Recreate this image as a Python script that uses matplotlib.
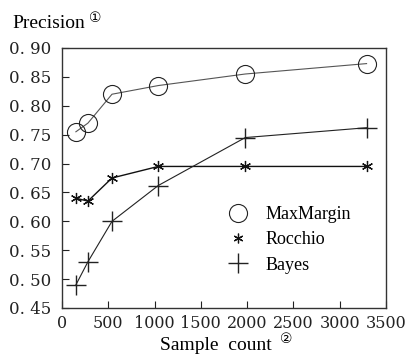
import matplotlib.pyplot as plt
from matplotlib.lines import Line2D
from matplotlib.ticker import FuncFormatter

samples = [150, 280, 540, 1040, 1980, 3290]
maxmargin = [0.755, 0.770, 0.820, 0.835, 0.855, 0.873]
rocchio = [0.640, 0.635, 0.675, 0.695, 0.695, 0.695]
bayes = [0.490, 0.530, 0.600, 0.662, 0.745, 0.762]

plt.rcParams['font.family'] = ['DejaVu Serif', 'DejaVu Sans']

fig = plt.figure(figsize=(4.09, 3.56), dpi=100)
ax = fig.add_axes([62 / 409, 1 - 308 / 356, (386 - 62) / 409, (308 - 48) / 356])

asterisk = (6, 2, 0)
ax.plot(samples, maxmargin, color='#555555', lw=0.8, marker='o', ms=13,
        mfc='none', mec='#222222', mew=0.8)
ax.plot(samples, rocchio, color='#111111', lw=1.0, marker=asterisk, ms=8,
        mec='#111111', mew=0.9)
ax.plot(samples, bayes, color='#222222', lw=0.8, marker='+', ms=14, mew=1.0)

ax.set_xlim(0, 3500)
ax.set_ylim(0.45, 0.90)
ax.set_xticks(range(0, 3501, 500))
ax.set_yticks([0.45, 0.50, 0.55, 0.60, 0.65, 0.70, 0.75, 0.80, 0.85, 0.90])
ax.yaxis.set_major_formatter(FuncFormatter(lambda v, p: f'{v:.2f}'.replace('.', '. ')))
ax.tick_params(direction='in', length=5, labelsize=12, colors='#222222', pad=8)
ax.tick_params(axis='x', pad=5, labelsize=11.5)
for s in ax.spines.values():
    s.set_color('#333333')
    s.set_linewidth(1.0)

# axis titles with small raised circled footnote marks
fig.text(12 / 409, 1 - 24 / 356, 'Precision', fontsize=14, va='center', ha='left',
         family=['Liberation Serif'])
fig.text(89 / 409, 1 - 18 / 356, '\u2460', fontsize=10, va='center', ha='left',
         family=['DejaVu Sans'])
fig.text(160 / 409, 1 - 346 / 356, 'Sample  count', fontsize=14, va='center', ha='left',
         family=['Liberation Serif'])
fig.text(280 / 409, 1 - 339 / 356, '\u2461', fontsize=10, va='center', ha='left',
         family=['DejaVu Sans'])

handles = [
    Line2D([], [], ls='none', marker='o', ms=13, mfc='none', mec='#222222', mew=0.8),
    Line2D([], [], ls='none', marker=asterisk, ms=7, mec='#111111', mew=0.9),
    Line2D([], [], ls='none', marker='+', ms=14, mec='#222222', mew=1.0),
]
ax.legend(handles, ['MaxMargin', 'Rocchio', 'Bayes'], loc='lower left',
          bbox_to_anchor=(0.455, 0.07), frameon=False,
          prop={'family': ['Liberation Serif'], 'size': 13},
          handlelength=1.4, labelspacing=0.45, handletextpad=0.8)

fig.savefig('out.png', dpi=100)
